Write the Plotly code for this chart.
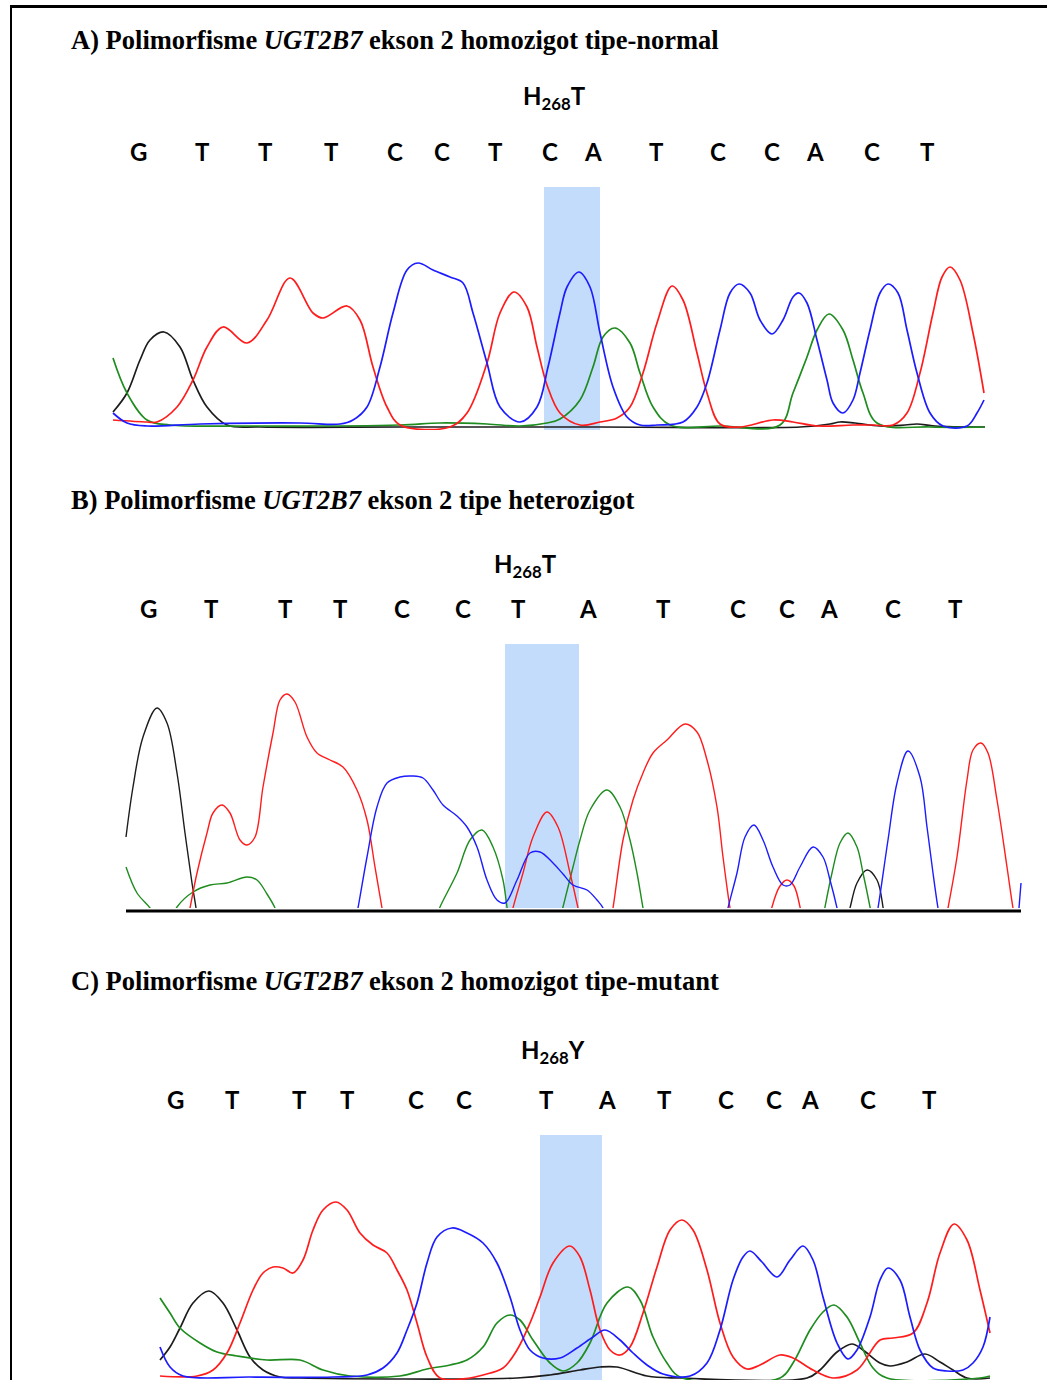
import plotly.graph_objects as go

W, H = 1047, 1380

# ---------------- Data (x = scan position, y = signal) ----------------
# Panel A: homozigot tipe-normal
A_G_x = [113,127,140,150,164,180,193,207,227,260,400,600,800,830,840,855,880,905,917,935,985]
A_G_y = [15,34,67,87,95,80,47,20,2,0,0,0,0,3,5,4,1,2,3,1,0]
A_A_x = [113,127,147,170,250,400,440,487,520,547,560,580,593,603,615,630,640,653,670,720,780,793,807,817,829,843,853,863,877,930,985]
A_A_y = [69,34,7,2,1,2,4,3,1,4,8,27,60,90,99,84,54,20,2,1,2,34,70,97,113,97,67,34,4,0,0]
A_T_x = [113,147,157,177,193,207,223,247,267,290,313,323,347,360,373,387,400,450,467,487,500,514,527,537,547,560,580,600,617,630,643,657,672,683,697,707,720,740,773,793,817,853,873,893,907,920,933,942,950,960,973,984]
A_T_y = [7,5,5,20,47,80,100,84,107,149,114,109,121,107,60,20,2,0,14,64,114,135,120,80,42,14,2,5,9,20,54,104,141,127,74,34,3,0,7,5,1,2,2,2,14,54,114,150,160,147,94,34]
A_C_x = [113,127,147,200,300,340,353,367,380,393,407,418,433,450,463,473,487,500,520,537,548,560,567,579,590,600,613,627,640,657,683,697,707,720,730,739,750,760,772,783,793,799,807,817,827,833,843,853,860,870,880,888,898,907,917,930,943,967,977,984]
A_C_y = [14,4,1,3,4,3,7,20,60,114,157,164,157,150,144,114,64,20,5,20,60,114,140,155,140,94,40,10,2,2,5,20,44,97,134,143,134,107,93,107,130,134,124,87,47,24,14,27,54,97,134,143,134,97,54,14,1,1,14,27]

# Panel B: heterozigot (None separates visible segments)
B_G_x = [126,133,143,157,167,177,185,192,196,198,None,846,850,857,867,877,883,885]
B_G_y = [71,121,171,200,185,135,75,25,0,-15,None,-15,0,25,38,28,1,-15]
B_A_x = [126,137,150,155,None,172,177,193,210,227,247,257,267,275,278,None,436,440,457,470,482,493,503,507,509,None,560,563,573,580,590,607,620,630,637,643,645,None,823,825,832,840,848,857,863,870,872]
B_A_y = [41,15,0,-10,None,-10,1,16,23,25,31,28,14,0,-10,None,-10,1,35,68,78,61,28,1,-10,None,-10,1,41,68,98,118,101,68,35,0,-10,None,-10,1,35,65,75,61,35,1,-10]
B_T_x = [188,190,197,207,213,222,230,240,247,255,263,273,280,287,295,307,317,330,343,357,367,375,382,384,None,511,513,523,533,547,558,570,578,580,None,611,613,623,633,643,653,667,685,697,707,717,723,730,732,None,770,772,780,787,794,800,802,None,946,948,957,967,973,981,988,997,1007,1013,1015]
B_T_y = [-10,0,35,75,95,103,95,68,63,71,121,175,208,214,206,171,155,148,141,118,88,41,0,-10,None,-10,0,35,71,96,81,35,0,-10,None,-10,0,68,108,135,155,168,184,176,148,101,51,0,-10,None,-10,1,22,28,22,1,-10,None,-10,0,51,128,158,165,155,108,41,0,-10]
B_C_x = [356,358,367,377,387,400,412,423,433,443,457,467,477,487,497,505,517,530,540,553,563,573,587,597,603,605,None,726,728,737,745,754,763,773,783,790,800,813,823,830,837,839,None,876,878,888,897,908,920,927,933,938,940,None,1019,1021]
B_C_y = [-10,0,51,101,125,131,132,130,118,103,92,81,61,28,8,5,28,55,56,45,34,23,18,8,0,-10,None,-10,0,35,71,83,68,41,23,23,41,61,51,28,0,-10,None,-10,0,68,125,157,131,81,35,0,-10,None,0,25]

# Panel C: homozigot tipe-mutant
C_G_x = [160,170,180,193,209,223,237,250,263,280,300,517,550,580,600,617,647,680,807,820,837,852,863,880,890,907,925,940,953,967,990]
C_G_y = [18,31,50,75,87,75,48,21,8,1,0,0,3,8,11,11,2,0,0,8,26,34,28,15,12,16,24,16,8,0,0]
C_A_x = [160,170,180,200,217,237,267,300,323,350,400,427,450,467,483,497,510,520,533,550,563,577,590,607,628,640,653,667,680,780,793,810,823,834,847,860,873,887,980,990]
C_A_y = [80,65,50,35,26,22,18,18,8,2,2,9,13,18,31,55,63,58,38,15,7,15,35,75,91,78,41,15,1,0,15,48,66,73,61,35,10,0,0,2]
C_T_x = [160,197,213,227,240,253,263,273,283,293,303,313,323,336,347,360,373,387,397,407,417,427,440,470,483,503,517,530,540,553,570,580,590,600,610,620,630,643,657,670,682,693,707,720,733,747,760,780,793,813,833,857,880,893,913,927,940,954,967,980,990]
C_T_y = [2,2,8,25,55,88,105,111,110,105,118,148,168,176,168,145,133,125,108,88,55,21,0,0,3,10,28,55,81,115,132,121,88,48,28,23,31,65,111,148,158,148,108,55,21,9,13,23,20,8,0,8,38,40,45,75,125,154,138,88,45]
C_C_x = [160,170,183,250,333,367,383,397,407,417,427,437,452,467,483,497,510,520,530,543,560,577,593,605,620,633,647,663,690,707,720,733,743,750,762,777,790,803,813,823,837,848,857,870,880,888,900,910,920,933,947,963,973,983,990]
C_C_y = [31,11,2,1,1,3,10,25,48,75,115,141,150,145,135,115,81,48,28,20,20,30,41,48,38,25,13,4,2,15,48,98,121,127,116,101,118,132,118,81,35,19,28,61,98,110,98,61,28,10,7,8,15,31,61]

# Base calls and their scan positions
A_bases = ["G","T","T","T","C","C","T","C","A","T","C","C","A","C","T"]
A_base_pos = [138,202,265,331,395,442,495,550,593,656,718,772,815,872,927]
B_bases = ["G","T","T","T","C","C","T","A","T","C","C","A","C","T"]
B_base_pos = [148,211,285,340,402,463,518,588,663,738,787,829,893,955]
C_bases = ["G","T","T","T","C","C","T","A","T","C","C","A","C","T"]
C_base_pos = [175,232,299,347,416,464,546,607,664,726,774,810,868,929]

titles = [
    "A) Polimorfisme <i>UGT2B7</i> ekson 2 homozigot tipe-normal",
    "B) Polimorfisme <i>UGT2B7</i> ekson 2 tipe heterozigot",
    "C) Polimorfisme <i>UGT2B7</i> ekson 2 homozigot tipe-mutant",
]
mut_labels = ["H<sub>268</sub>T", "H<sub>268</sub>T", "H<sub>268</sub>Y"]
mut_pos = [554, 525, 553]
highlight = [(544, 600), (505, 579), (540, 602)]

# ---------------- Figure ----------------
COL = {"G": "#1c1c1c", "A": "#1e8c1e", "T": "#ff1c1c", "C": "#1c1cff"}

def py(p):
    return 1 - p / H

fig = go.Figure()

panels = [
    ("y", {"G": (A_G_x, A_G_y), "A": (A_A_x, A_A_y), "T": (A_T_x, A_T_y), "C": (A_C_x, A_C_y)}, 1.7),
    ("y2", {"G": (B_G_x, B_G_y), "A": (B_A_x, B_A_y), "T": (B_T_x, B_T_y), "C": (B_C_x, B_C_y)}, 1.4),
    ("y3", {"G": (C_G_x, C_G_y), "A": (C_A_x, C_A_y), "T": (C_T_x, C_T_y), "C": (C_C_x, C_C_y)}, 1.7),
]
for yax, series, lw in panels:
    for base in ["G", "A", "T", "C"]:
        xs, ys = series[base]
        fig.add_trace(go.Scatter(
            x=xs, y=ys, mode="lines", xaxis="x", yaxis=yax,
            line=dict(color=COL[base], width=lw, shape="spline", smoothing=1.0),
            connectgaps=False, hoverinfo="skip", showlegend=False))

# highlight boxes
yrefs = ["y", "y2", "y3"]
yspans = [(-3, 240), (0, 264), (-2, 243)]
for (x0, x1), yr, (y0, y1) in zip(highlight, yrefs, yspans):
    fig.add_shape(type="rect", xref="x", yref=yr, x0=x0, x1=x1, y0=y0, y1=y1,
                  fillcolor="#C4DCFB", line=dict(width=0), layer="below")

# panel B baseline
fig.add_shape(type="line", xref="x", yref="paper", x0=126, x1=1021, y0=py(911), y1=py(911),
              line=dict(color="black", width=3))
# frame
fig.add_shape(type="line", xref="paper", yref="paper", x0=10 / W, x1=1, y0=py(6.5), y1=py(6.5),
              line=dict(color="black", width=3))
fig.add_shape(type="line", xref="paper", yref="paper", x0=11 / W, x1=11 / W, y0=py(6), y1=0,
              line=dict(color="black", width=2))

title_y = [40, 500, 981]
label_y = [97, 565, 1051]
base_y = [152, 608, 1099]
for i, t in enumerate(titles):
    fig.add_annotation(x=69 / W, y=py(title_y[i]), xref="paper", yref="paper",
                       text="<b>" + t + "</b>", showarrow=False, xanchor="left", yanchor="middle",
                       font=dict(family="Liberation Serif", size=26.5, color="black"))
    fig.add_annotation(x=mut_pos[i], y=py(label_y[i]), xref="x", yref="paper",
                       text="<b>" + mut_labels[i] + "</b>", showarrow=False,
                       xanchor="center", yanchor="middle",
                       font=dict(family="Lato", size=24, color="black"))

for bases, pos, yy in [(A_bases, A_base_pos, base_y[0]), (B_bases, B_base_pos, base_y[1]),
                       (C_bases, C_base_pos, base_y[2])]:
    for b, p in zip(bases, pos):
        fig.add_annotation(x=p, y=py(yy), xref="x", yref="paper", text="<b>" + b + "</b>",
                           showarrow=False, xanchor="center", yanchor="middle",
                           font=dict(family="Lato", size=24, color="black"))

fig.update_layout(
    width=W, height=H, margin=dict(l=0, r=0, t=0, b=0),
    paper_bgcolor="white", plot_bgcolor="white",
    xaxis=dict(range=[0, W], domain=[0, 1], visible=False, fixedrange=True),
    yaxis=dict(range=[-3, 240], domain=[py(430), py(187)], visible=False, fixedrange=True),
    yaxis2=dict(range=[0, 264], domain=[py(908), py(644)], visible=False, fixedrange=True),
    yaxis3=dict(range=[-2, 243], domain=[0, py(1135)], visible=False, fixedrange=True),
)

fig.write_html("out.html", config={"displayModeBar": False},
               post_script="document.body.style.margin='0';document.body.style.overflow='hidden';")
